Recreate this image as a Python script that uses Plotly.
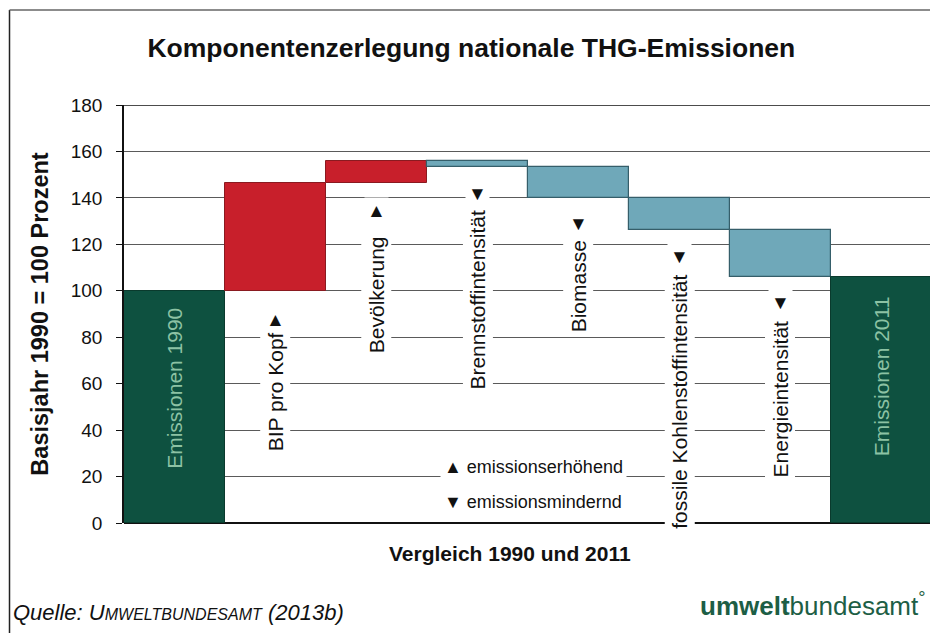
import plotly.graph_objects as go

categories = ["Emissionen 1990", "BIP pro Kopf", "Bevölkerung", "Brennstoffintensität",
              "Biomasse", "fossile Kohlenstoffintensität", "Energieintensität", "Emissionen 2011"]
measures = ["absolute", "relative", "relative", "relative", "relative", "relative", "relative", "total"]
values = [100, 46.5, 9.5, -2.5, -13.5, -14, -20, 0]

# label positions (value axis) for rotated labels and arrow symbols
label_y = [58, 56.5, 98.3, 96, 101.7, 52, 53.4, 63]
arrow_y = [None, 87.5, 134.5, 142, 129, 114.7, 95, None]
arrows = [None, "▲", "▲", "▼", "▼", "▼", "▼", None]

y_ticks = [0, 20, 40, 60, 80, 100, 120, 140, 160, 180]

FONT = "Liberation Sans, Arial, sans-serif"
RED = "#c81f2b"
BLUE = "#6fa8b9"
GREEN = "#0e5140"

fig = go.Figure(go.Waterfall(
    x=categories, y=values, measure=measures,
    increasing=dict(marker=dict(color=RED, line=dict(color="#8a1a20", width=1))),
    decreasing=dict(marker=dict(color=BLUE, line=dict(color="#355e6a", width=1.2))),
    totals=dict(marker=dict(color=GREEN, line=dict(color="#0a3a2d", width=1))),
    connector=dict(visible=False),
    hoverinfo="skip",
))

ann = []
for i, c in enumerate(categories):
    if i in (0, 7):
        ann.append(dict(x=c, y=label_y[i], text=c, textangle=-90, showarrow=False,
                        font=dict(family=FONT, size=21, color="#8cc2a4"),
                        xanchor="center", yanchor="middle"))
    else:
        ann.append(dict(x=c, y=label_y[i], text=c, textangle=-90, showarrow=False,
                        font=dict(family=FONT, size=21, color="#111"),
                        bgcolor="white", borderpad=3,
                        xanchor="center", yanchor="middle"))
        ann.append(dict(x=c, y=arrow_y[i], text=arrows[i], showarrow=False,
                        font=dict(family=FONT, size=19, color="#111"),
                        bgcolor="white", borderpad=2,
                        xanchor="center", yanchor="middle"))

# legend-like notes
ann.append(dict(xref="paper", x=0.391, y=24.3, text="▲ emissionserhöhend", showarrow=False,
                xanchor="left", yanchor="middle", bgcolor="white", borderpad=3,
                font=dict(family=FONT, size=18, color="#111")))
ann.append(dict(xref="paper", x=0.391, y=9.2, text="▼ emissionsmindernd", showarrow=False,
                xanchor="left", yanchor="middle", bgcolor="white", borderpad=3,
                font=dict(family=FONT, size=18, color="#111")))

# x axis title
ann.append(dict(xref="paper", yref="paper", x=0.478, y=-0.072, text="<b>Vergleich 1990 und 2011</b>",
                showarrow=False, xanchor="center", yanchor="middle",
                font=dict(family=FONT, size=21, color="#111")))
# source
ann.append(dict(xref="paper", yref="paper", x=-0.1395, y=-0.213,
                text="<i>Quelle: U<span style='font-size:16px'>MWELTBUNDESAMT</span> (2013b)</i>",
                showarrow=False, xanchor="left", yanchor="middle",
                font=dict(family=FONT, size=22, color="#111")))
# logo
ann.append(dict(xref="paper", yref="paper", x=0.995, y=-0.196,
                text="<b>umwelt</b>bundesamt<sup>°</sup>",
                showarrow=False, xanchor="right", yanchor="middle",
                font=dict(family=FONT, size=26, color="#1d5e45")))

shapes = [
    # top line at 180
    dict(type="line", xref="paper", yref="y", x0=0, x1=1, y0=180, y1=180,
         line=dict(color="#111", width=1.5)),
    # scanned frame
    dict(type="line", xref="paper", yref="paper", x0=-0.1417, x1=-0.1417, y0=-0.3, y1=1.227,
         line=dict(color="#222", width=1.5)),
    dict(type="line", xref="paper", yref="paper", x0=-0.1417, x1=1.02, y0=1.227, y1=1.227,
         line=dict(color="#666", width=1.5)),
]

fig.update_layout(
    width=938, height=633,
    margin=dict(l=116, r=14, t=97, b=118),
    paper_bgcolor="white", plot_bgcolor="white",
    waterfallgap=0,
    showlegend=False,
    title=dict(text="<b>Komponentenzerlegung nationale THG-Emissionen</b>",
               x=0.494, xanchor="center", y=0.938, yanchor="middle",
               font=dict(family=FONT, size=26.5, color="#111")),
    annotations=ann,
    shapes=shapes,
)
fig.update_xaxes(showticklabels=False, showgrid=False, ticks="", showline=False)
fig.update_yaxes(range=[0, 180], tickvals=y_ticks, showgrid=True, gridcolor="#5a5a5a", gridwidth=1.3,
                 showline=True, linecolor="#111", linewidth=1.5, ticks="outside", ticklen=6,
                 tickcolor="#111", zeroline=True, zerolinecolor="#111", zerolinewidth=1.5,
                 ticklabelstandoff=10,
                 tickfont=dict(family=FONT, size=19, color="#111"),
                 title=dict(text="<b>Basisjahr 1990 = 100 Prozent</b>", standoff=16,
                            font=dict(family=FONT, size=23.5, color="#111")))

fig.write_html("out.html")
